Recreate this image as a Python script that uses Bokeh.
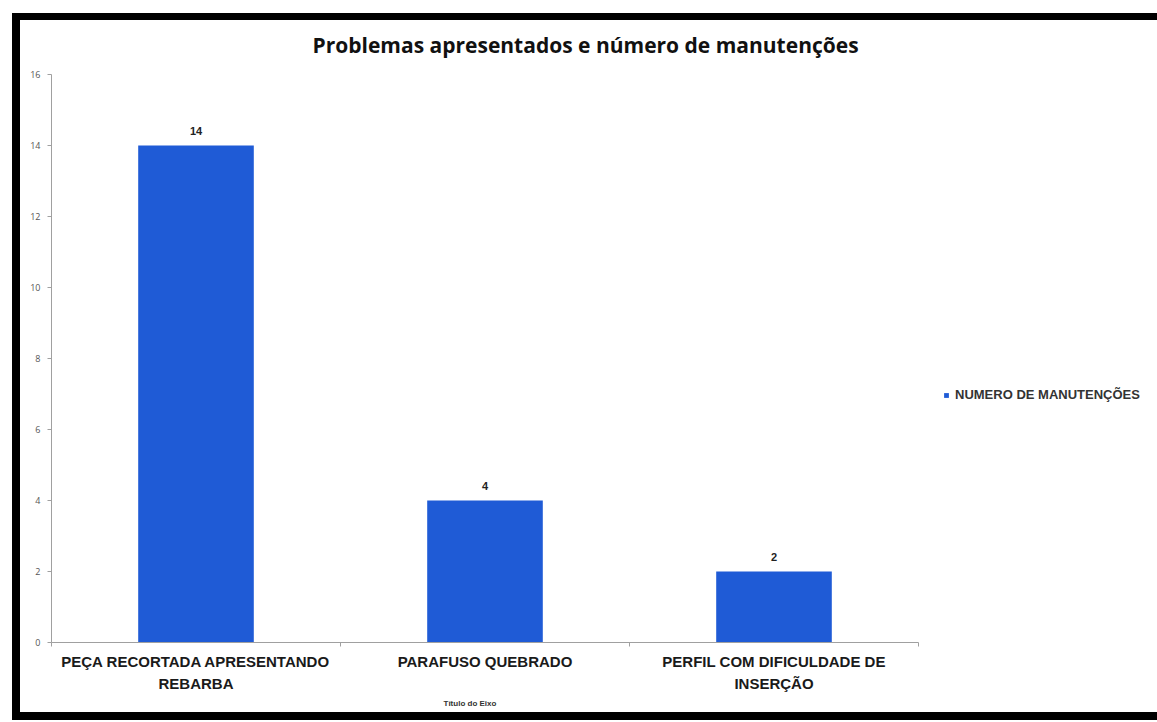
import numpy as np
from bokeh.plotting import figure
from bokeh.models import (Range1d, FixedTicker, Title, Legend, LegendItem,
                          ColumnDataSource)
from bokeh.core.properties import value
from bokeh.embed import file_html
from bokeh.resources import INLINE

# Chart data
categories = [
    "PEÇA RECORTADA APRESENTANDO\nREBARBA",
    "PARAFUSO QUEBRADO",
    "PERFIL COM DIFICULDADE DE\nINSERÇÃO",
]
manutencoes = [14, 4, 2]
y_ticks = [0, 2, 4, 6, 8, 10, 12, 14, 16]
series_name = "NUMERO DE MANUTENÇÕES"
chart_title = "Problemas apresentados e número  de manutenções"
x_title = "Título do Eixo"

W, H = 1157, 720
BAR_COLOR = "#1f5bd6"
AXIS_COLOR = "#a0a0a0"

# plot area: the category slots take the left part, the legend sits to their right
LEFT, TOP, BOTTOM = 51, 74, 78
SLOTS_RIGHT = 918
n = len(categories)
x_end = n * (W - LEFT) / (SLOTS_RIGHT - LEFT)

p = figure(width=W, height=H, output_backend="svg", toolbar_location=None,
           x_range=Range1d(0, x_end), y_range=Range1d(0, y_ticks[-1]),
           min_border_left=LEFT, min_border_right=0,
           min_border_top=TOP, min_border_bottom=BOTTOM)
p.outline_line_color = None
p.grid.visible = False
p.background_fill_color = "white"
p.border_fill_alpha = 0
# dark frame along the left, top and bottom edges, painted behind the canvas;
# the chart is pinned to the page corner so the page itself never scrolls
p.styles = {
    "position": "fixed",
    "left": "0px",
    "top": "0px",
    "background-color": "white",
    "background-image": "linear-gradient(#000, #000), linear-gradient(#000, #000), "
                        "linear-gradient(#000, #000)",
    "background-repeat": "no-repeat",
    "background-size": "8px 707px, 1145px 7px, 1145px 8px",
    "background-position": "12px 13px, 12px 13px, 12px 712px",
}

# chart title
p.title = Title(text=chart_title, align="left", offset=261, standoff=31,
                text_font="Open Sans", text_font_style="bold",
                text_font_size="21px", text_color="#111111")

# one slot per category, bar in the middle of each slot
centers = np.arange(n) + 0.5
src = ColumnDataSource(dict(x=centers, top=manutencoes,
                            label=[str(v) for v in manutencoes]))
bars = p.vbar(x="x", top="top", width=0.40, source=src,
              fill_color=BAR_COLOR, line_color=None)

# value labels above each bar
p.text(x="x", y="top", text="label", source=src, text_align="center",
       text_baseline="bottom", y_offset=-11,
       text_font=value("Liberation Sans"), text_font_style="bold",
       text_font_size="11px", text_color="#222222")

# x axis: category names centred, small ticks on slot boundaries
xa = p.xaxis[0]
xa.bounds = (0, n)
xa.ticker = FixedTicker(ticks=list(centers), minor_ticks=list(range(n + 1)))
xa.major_label_overrides = {float(c): lab for c, lab in zip(centers, categories)}
xa.major_tick_line_color = None
xa.major_tick_out = 4
xa.major_tick_in = 0
xa.minor_tick_line_color = AXIS_COLOR
xa.minor_tick_out = 4
xa.minor_tick_in = 0
xa.axis_line_color = AXIS_COLOR
xa.major_label_standoff = 6
xa.major_label_text_font = "Liberation Sans"
xa.major_label_text_font_style = "bold"
xa.major_label_text_font_size = "15px"
xa.major_label_text_color = "#1a1a1a"
xa.major_label_text_line_height = 1.3

# axis title, kept under the category slots rather than the whole frame
p.add_layout(Title(text=x_title, align="left", offset=392, standoff=4,
                   text_font="Liberation Sans", text_font_style="bold",
                   text_font_size="8px", text_color="#333333"), "below")

# y axis
ya = p.yaxis[0]
ya.ticker = FixedTicker(ticks=y_ticks, minor_ticks=[])
ya.axis_line_color = AXIS_COLOR
ya.major_tick_line_color = AXIS_COLOR
ya.major_tick_out = 4
ya.major_tick_in = 0
ya.minor_tick_line_color = None
ya.major_label_standoff = 7
ya.major_label_text_font = "Open Sans"
ya.major_label_text_font_size = "9px"
ya.major_label_text_color = "#555555"

# legend to the right of the category slots
legend = Legend(items=[LegendItem(label=series_name, renderers=[bars])],
                location=(SLOTS_RIGHT - LEFT + 25, 240), orientation="vertical",
                glyph_width=6, glyph_height=6, label_height=14,
                label_standoff=6, padding=0, spacing=0, margin=0,
                border_line_color=None, background_fill_alpha=0,
                label_text_font="Liberation Sans", label_text_font_style="bold",
                label_text_font_size="13px", label_text_color="#333333")
p.add_layout(legend, "center")

open("out.html", "w").write(file_html(p, INLINE))
